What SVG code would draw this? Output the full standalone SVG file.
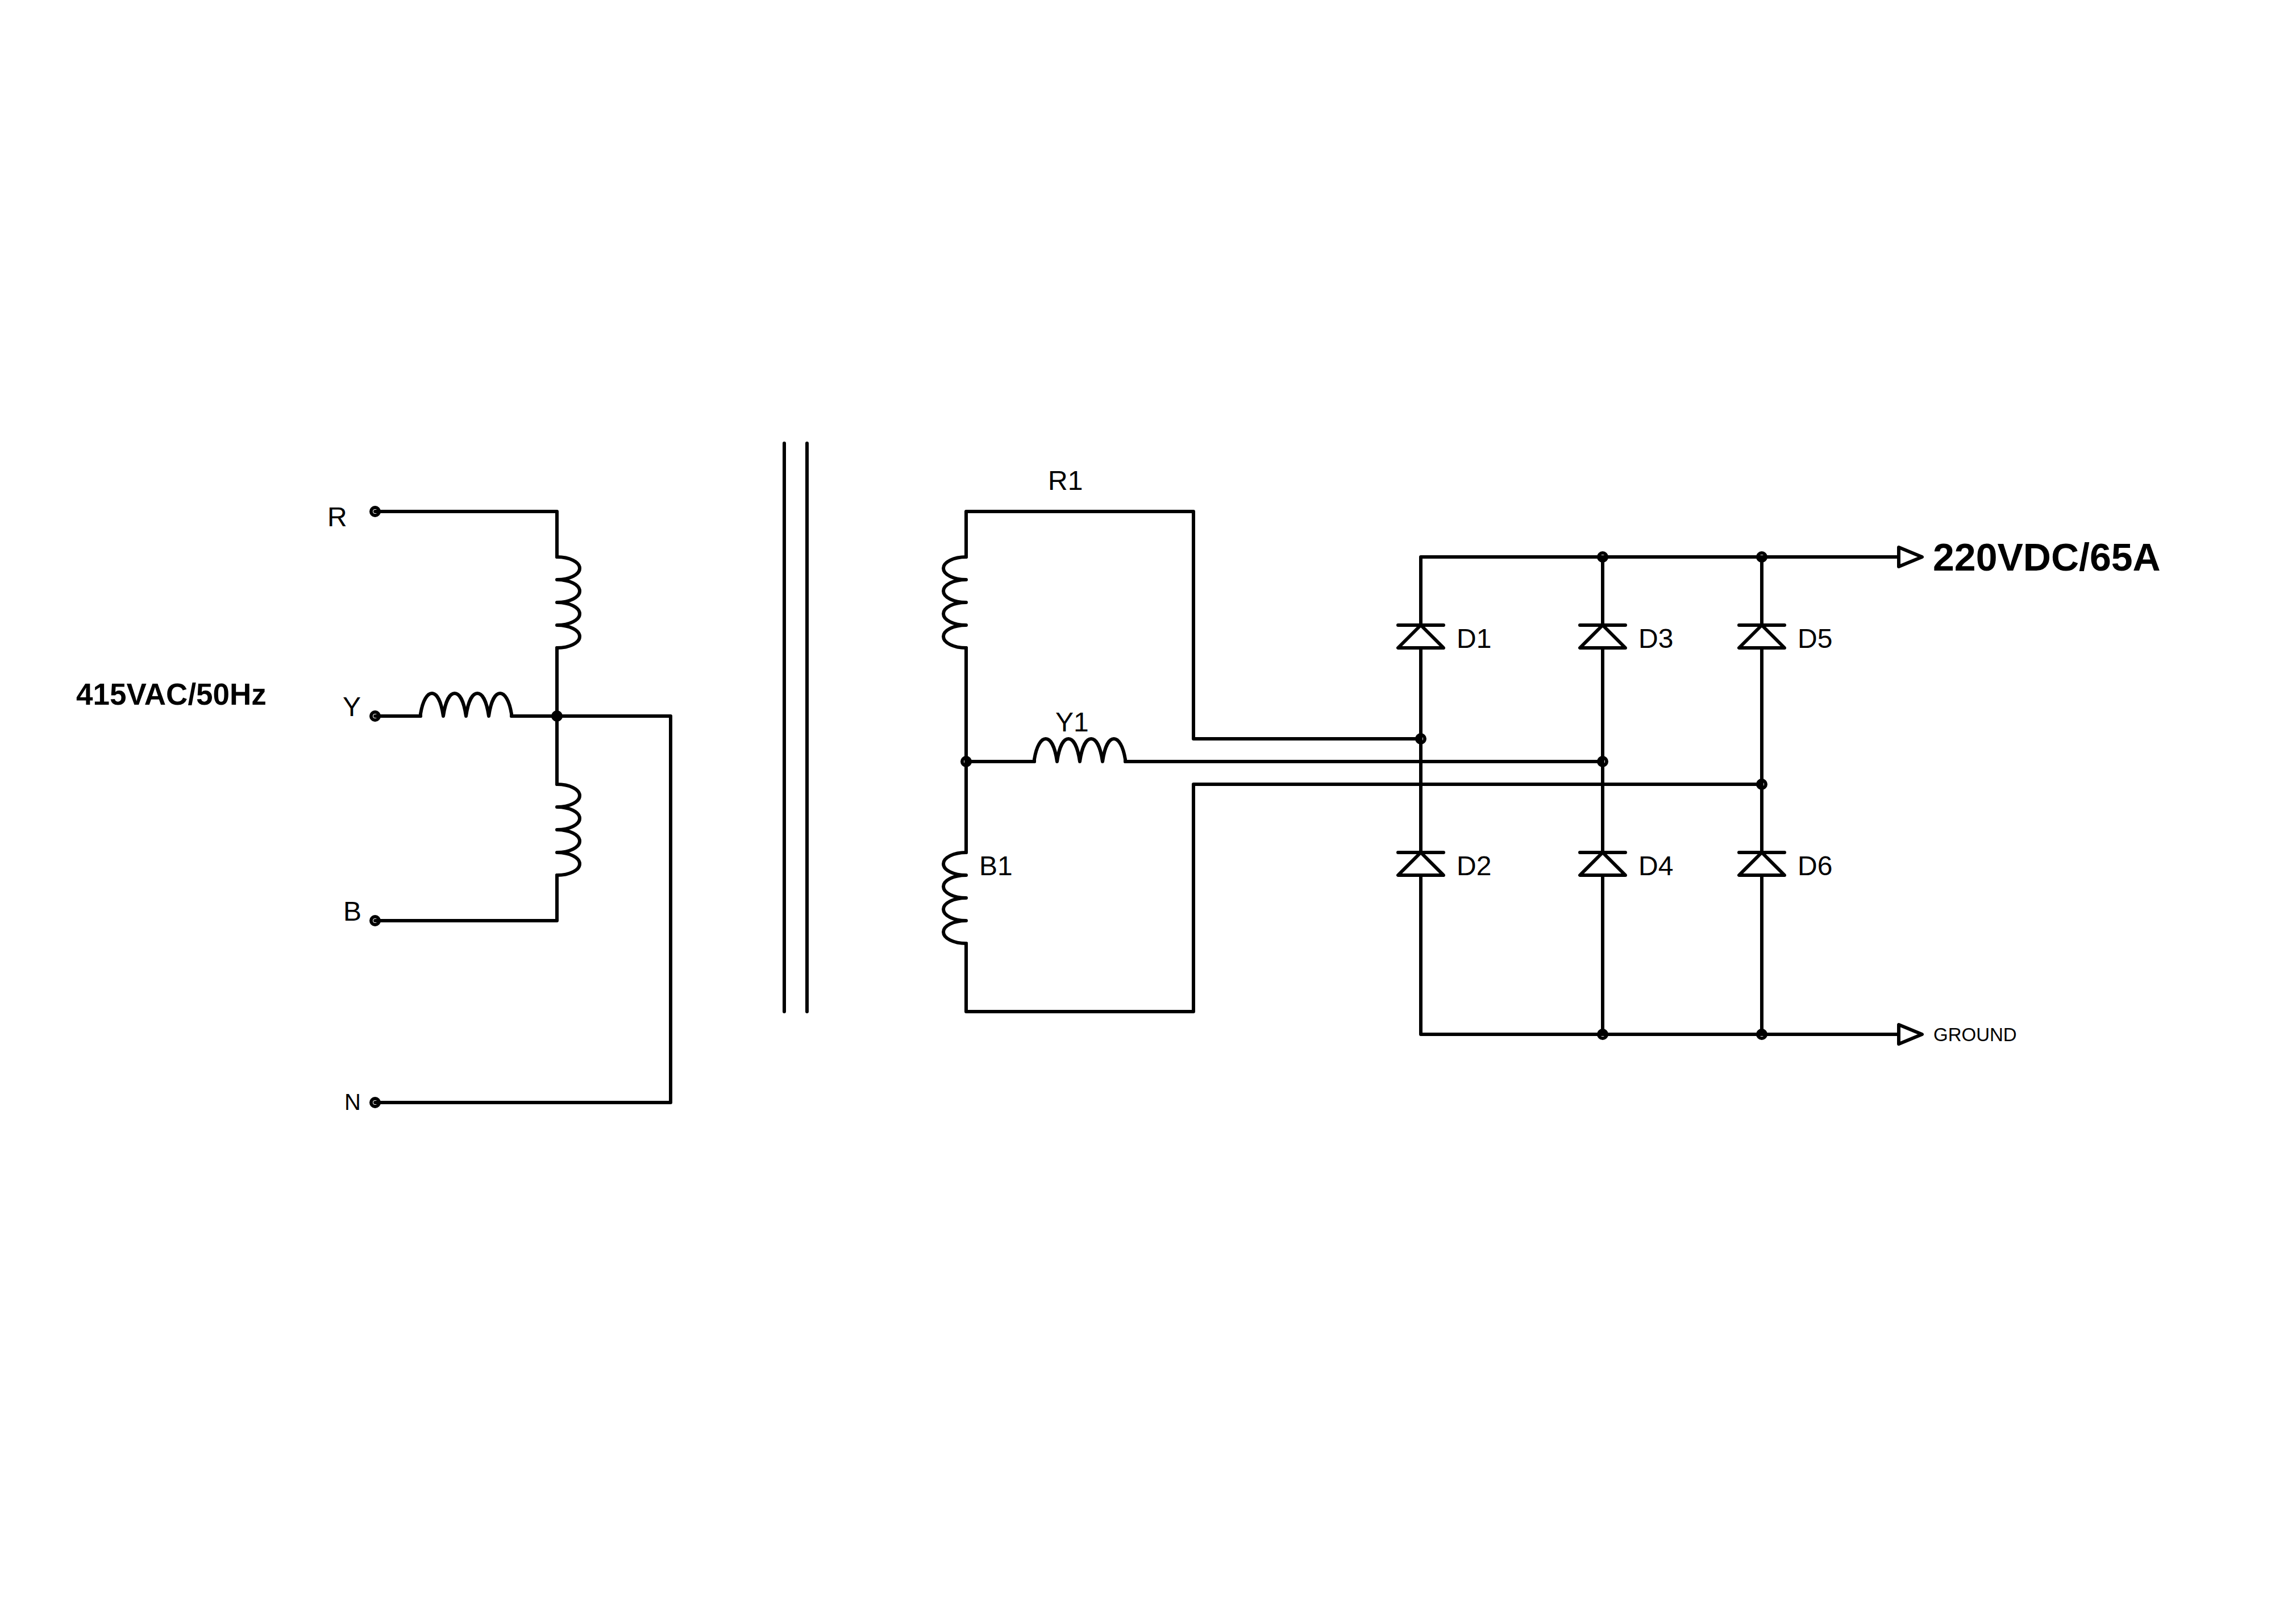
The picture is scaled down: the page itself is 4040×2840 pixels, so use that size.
<svg xmlns="http://www.w3.org/2000/svg" width="4040" height="2840" viewBox="0 0 4040 2840">
<style>
.w{fill:none;stroke:#000;stroke-width:6;stroke-linecap:round;stroke-linejoin:round}
.d{fill:none;stroke:#000;stroke-width:6}
text{font-family:"Liberation Sans",Arial,sans-serif;fill:#000;font-size:48px}
.b{font-weight:bold}
</style>
<defs>
<path id="coilV" class="w" d="M0 0a40 20 0 0 1 0 40a40 20 0 0 1 0 40a40 20 0 0 1 0 40a40 20 0 0 1 0 40"/>
<path id="coilH" class="w" d="M0 0v-4c4 -24 12 -36 20 -36s16 12 20 40c4 -28 12 -40 20 -40s16 12 20 40c4 -28 12 -40 20 -40s16 12 20 40c4 -28 12 -40 20 -40s16 12 20 36v4"/>
<path id="diode" class="w" d="M-40 0H40M0 0L-40 40H40Z"/>
<path id="arrow" class="w" d="M0 -17V17L41 0Z"/>
<circle id="dot" class="d" r="7"/>
</defs>
<rect width="4040" height="2840" fill="#fff"/>
<g id="nodes">
<g id="T-R"><use href="#dot" x="660" y="900"/><text x="576" y="926">R</text></g>
<g id="T-Y"><use href="#dot" x="660" y="1260"/><text x="603" y="1260">Y</text></g>
<g id="T-B"><use href="#dot" x="660" y="1620"/><text x="604" y="1620">B</text></g>
<g id="T-N"><use href="#dot" x="660" y="1940"/><text x="606" y="1953" style="font-size:40px">N</text></g>
<g id="label-input"><text class="b" x="134" y="1240" style="font-size:53px">415VAC/50Hz</text></g>
<g id="L-prim-R"><use href="#coilV" x="980" y="980"/></g>
<g id="L-prim-Y"><use href="#coilH" x="740" y="1260"/></g>
<g id="L-prim-B"><use href="#coilV" x="980" y="1380"/></g>
<g id="core"><path class="w" d="M1380 780V1780M1420 780V1780"/></g>
<g id="R1"><use href="#coilV" transform="translate(1700 980) scale(-1 1)"/><text x="1844" y="862">R1</text></g>
<g id="Y1"><use href="#coilH" x="1820" y="1340"/><text x="1857" y="1287">Y1</text></g>
<g id="B1"><use href="#coilV" transform="translate(1700 1500) scale(-1 1)"/><text x="1723" y="1540">B1</text></g>
<g id="D1"><use href="#diode" x="2500" y="1100"/><text x="2563" y="1140">D1</text></g>
<g id="D3"><use href="#diode" x="2820" y="1100"/><text x="2883" y="1140">D3</text></g>
<g id="D5"><use href="#diode" x="3100" y="1100"/><text x="3163" y="1140">D5</text></g>
<g id="D2"><use href="#diode" x="2500" y="1500"/><text x="2563" y="1540">D2</text></g>
<g id="D4"><use href="#diode" x="2820" y="1500"/><text x="2883" y="1540">D4</text></g>
<g id="D6"><use href="#diode" x="3100" y="1500"/><text x="3163" y="1540">D6</text></g>
<g id="J1"><use href="#dot" x="980" y="1260"/></g>
<g id="J2"><use href="#dot" x="1700" y="1340"/></g>
<g id="J3"><use href="#dot" x="2820" y="980"/></g>
<g id="J4"><use href="#dot" x="3100" y="980"/></g>
<g id="J5"><use href="#dot" x="2500" y="1300"/></g>
<g id="J6"><use href="#dot" x="2820" y="1340"/></g>
<g id="J7"><use href="#dot" x="3100" y="1380"/></g>
<g id="J8"><use href="#dot" x="2820" y="1820"/></g>
<g id="J9"><use href="#dot" x="3100" y="1820"/></g>
<g id="out-dc"><use href="#arrow" x="3341" y="980"/><text class="b" x="3401" y="1004" style="font-size:68px">220VDC/65A</text></g>
<g id="out-gnd"><use href="#arrow" x="3341" y="1820"/><text x="3402" y="1832" style="font-size:33px">GROUND</text></g>
</g>
<g id="connectors" class="w">
<path d="M660 900H980V980"/>
<path d="M980 1140V1380"/>
<path d="M980 1540V1620H660"/>
<path d="M660 1260H740"/>
<path d="M900 1260H1180V1940H660"/>
<path d="M1700 980V900H2100V1300H2500"/>
<path d="M1700 1140V1500"/>
<path d="M1700 1660V1780H2100V1380H3100"/>
<path d="M1700 1340H1820"/>
<path d="M1980 1340H2820"/>
<path d="M2500 1100V980H3341"/>
<path d="M2820 980V1100"/>
<path d="M3100 980V1100"/>
<path d="M2500 1140V1500"/>
<path d="M2820 1140V1500"/>
<path d="M3100 1140V1500"/>
<path d="M2500 1540V1820H3341"/>
<path d="M2820 1540V1820"/>
<path d="M3100 1540V1820"/>
</g>
</svg>
